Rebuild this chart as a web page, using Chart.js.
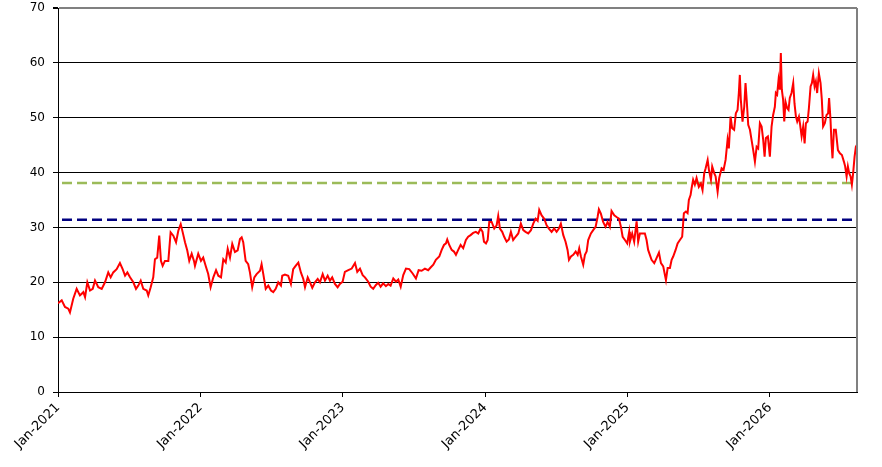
<!DOCTYPE html>
<html>
<head>
<meta charset="utf-8">
<script src="https://cdn.jsdelivr.net/npm/chart.js@4.4.1/dist/chart.umd.min.js"></script>
<style>
  html, body { margin: 0; padding: 0; background: #fff; }
  #wrap { width: 882px; height: 467px; }
</style>
</head>
<body>
<div id="wrap"><canvas id="priceChart" width="882" height="467"></canvas></div>
<script>
// time in years after Jan-2021
const times = [
  0, 0.026, 0.049, 0.072, 0.084, 0.107, 0.131, 0.154, 0.178, 0.190,
  0.206, 0.225, 0.244, 0.260, 0.283, 0.307, 0.330, 0.353, 0.370, 0.388,
  0.412, 0.435, 0.454, 0.471, 0.487, 0.506, 0.529, 0.548, 0.564, 0.581,
  0.599, 0.623, 0.634, 0.651, 0.669, 0.681, 0.697, 0.711, 0.723, 0.735,
  0.751, 0.775, 0.791, 0.810, 0.829, 0.845, 0.862, 0.876, 0.892, 0.908,
  0.922, 0.939, 0.955,
  0.962, 0.985, 1.004, 1.020, 1.037, 1.055, 1.072, 1.091, 1.110, 1.126,
  1.145, 1.161, 1.178, 1.192, 1.208, 1.224, 1.243, 1.262, 1.278, 1.290,
  1.301, 1.318, 1.336, 1.348, 1.364, 1.379, 1.395, 1.419, 1.430, 1.442,
  1.459, 1.477, 1.496, 1.512, 1.529, 1.547, 1.566, 1.575, 1.594, 1.617,
  1.636, 1.652, 1.669, 1.688, 1.706, 1.723, 1.735, 1.754, 1.770, 1.786,
  1.805, 1.824, 1.840, 1.859, 1.875, 1.894, 1.910, 1.926, 1.945, 1.964,
  1.980,
  1.999, 2.015, 2.039, 2.063, 2.086, 2.102, 2.121, 2.140, 2.156, 2.179,
  2.196, 2.214, 2.233, 2.249, 2.266, 2.284, 2.303, 2.320, 2.336, 2.355,
  2.374, 2.390, 2.407, 2.425, 2.444, 2.467, 2.491, 2.514, 2.533, 2.554,
  2.577, 2.600, 2.617, 2.636, 2.654, 2.678, 2.695, 2.711, 2.725, 2.734,
  2.748, 2.765, 2.781, 2.795, 2.811, 2.828, 2.846, 2.865, 2.881, 2.898,
  2.916, 2.935, 2.952, 2.968, 2.982, 2.992, 3.006, 3.018, 3.029,
  3.046, 3.064, 3.081, 3.092, 3.104, 3.120, 3.134, 3.151, 3.167, 3.181,
  3.197, 3.214, 3.233, 3.251, 3.268, 3.284, 3.303, 3.322, 3.338, 3.355,
  3.369, 3.380, 3.397, 3.415, 3.432, 3.448, 3.467, 3.485, 3.502, 3.518,
  3.532, 3.549, 3.565, 3.579, 3.589, 3.603, 3.619, 3.636, 3.650, 3.661,
  3.673, 3.689, 3.701, 3.713, 3.724, 3.743, 3.759, 3.776, 3.790, 3.799,
  3.813, 3.829, 3.846, 3.860, 3.876, 3.888, 3.907, 3.923, 3.940, 3.954,
  3.966, 3.982, 3.998, 4.012,
  4.017, 4.033, 4.047, 4.064, 4.075, 4.087, 4.103, 4.122, 4.134, 4.145,
  4.157, 4.169, 4.188, 4.204, 4.221, 4.235, 4.251, 4.263, 4.270, 4.282,
  4.298, 4.310, 4.321, 4.338, 4.352, 4.368, 4.384, 4.396, 4.410, 4.422,
  4.431, 4.443, 4.450, 4.461, 4.473, 4.485, 4.501, 4.515, 4.527, 4.539,
  4.549, 4.563, 4.572, 4.586, 4.595, 4.609, 4.619, 4.633, 4.644, 4.661,
  4.675, 4.689, 4.703, 4.712, 4.724, 4.735, 4.749, 4.761, 4.773, 4.782,
  4.789, 4.796, 4.808, 4.820, 4.829, 4.838, 4.848, 4.860, 4.871, 4.883,
  4.895, 4.907, 4.918,
  4.930, 4.942, 4.953, 4.963, 4.972, 4.986, 5.000, 5.012, 5.023, 5.035,
  5.042, 5.051, 5.061, 5.070, 5.077, 5.084, 5.093, 5.101, 5.110, 5.122,
  5.131, 5.140, 5.152, 5.164, 5.173, 5.183, 5.192, 5.204, 5.211, 5.223,
  5.234, 5.244, 5.253, 5.265, 5.274, 5.286, 5.295, 5.304, 5.314, 5.323,
  5.332, 5.344, 5.356, 5.365, 5.374, 5.386, 5.398, 5.409, 5.416, 5.426,
  5.433, 5.440, 5.450, 5.463, 5.478, 5.492, 5.506, 5.520, 5.529, 5.539,
  5.548, 5.557, 5.567, 5.576, 5.585, 5.595, 5.604, 5.611
];

const prices = [
  16.2, 16.7, 15.5, 15.2, 14.5, 17.0, 18.8, 17.6, 18.2, 17.3,
  20.0, 18.5, 18.8, 20.3, 19.1, 18.8, 20.0, 21.8, 20.9, 21.8,
  22.4, 23.5, 22.4, 21.2, 21.8, 20.9, 20.0, 18.8, 19.4, 20.3,
  18.8, 18.5, 17.6, 19.1, 20.9, 24.2, 24.5, 28.5, 23.9, 23.0,
  23.9, 23.9, 29.1, 28.5, 27.3, 29.4, 30.6, 29.1, 27.3, 25.8,
  23.9, 25.2, 23.9,
  23.0, 25.2, 23.9, 24.5, 23.0, 21.5, 19.1, 20.9, 22.2, 21.2,
  20.9, 24.2, 23.6, 26.1, 24.5, 27.0, 25.5, 25.8, 27.9, 28.2,
  27.3, 23.9, 23.3, 21.8, 19.1, 20.9, 21.5, 22.1, 23.3, 21.5,
  18.8, 19.4, 18.5, 18.2, 18.8, 20.0, 19.4, 21.2, 21.4, 21.2,
  19.7, 22.4, 23.0, 23.6, 21.8, 20.6, 19.1, 20.9, 20.0, 19.0,
  20.0, 20.6, 20.0, 21.5, 20.3, 21.2, 20.3, 20.9, 19.7, 19.1,
  19.7,
  20.1, 21.9, 22.2, 22.5, 23.5, 21.9, 22.5, 21.3, 20.9, 20.1,
  19.2, 18.8, 19.5, 19.9, 19.2, 19.8, 19.3, 19.7, 19.4, 20.7,
  20.1, 20.5, 19.2, 21.3, 22.5, 22.4, 21.6, 20.7, 22.2, 22.1,
  22.5, 22.2, 22.7, 23.2, 24.1, 24.7, 25.9, 26.8, 27.1, 27.8,
  26.8, 25.9, 25.6, 25.0, 25.9, 26.8, 26.2, 27.7, 28.3, 28.6,
  29.0, 29.2, 28.9, 29.8, 29.2, 27.4, 27.1, 27.7, 31.0,
  31.0, 29.8, 30.4, 32.1, 29.8, 29.2, 28.3, 27.4, 27.8, 29.2,
  27.7, 28.3, 28.9, 30.7, 29.5, 29.2, 28.9, 29.5, 30.7, 31.6,
  31.2, 33.2, 32.2, 31.6, 30.4, 29.8, 29.2, 29.8, 29.2, 29.8,
  30.7, 28.6, 27.4, 25.9, 24.1, 24.7, 25.0, 25.6, 25.0, 26.2,
  24.7, 23.2, 25.0, 25.6, 27.7, 28.9, 29.5, 30.1, 31.9, 33.3,
  32.5, 31.0, 30.1, 31.0, 30.1, 33.0, 32.2, 31.9, 31.6, 30.1,
  28.3, 27.7, 27.1, 29.2,
  27.4, 28.9, 27.4, 31.1, 27.4, 28.9, 28.9, 28.9, 27.7, 25.9,
  25.0, 24.1, 23.5, 24.4, 25.4, 23.5, 22.9, 21.3, 20.4, 22.6,
  22.6, 24.1, 24.7, 25.9, 27.1, 27.7, 28.3, 32.6, 32.9, 32.6,
  35.0, 35.9, 37.1, 38.7, 37.8, 39.0, 37.4, 38.0, 36.8, 39.9,
  40.8, 42.3, 40.5, 38.7, 41.1, 39.9, 39.3, 36.5, 39.0, 40.8,
  40.5, 42.3, 46.0, 44.4, 50.2, 48.1, 47.8, 50.8, 51.4, 54.5,
  57.8, 53.3, 49.3, 52.0, 56.3, 52.9, 48.7, 47.8, 46.0, 44.1,
  42.0, 44.7, 44.4,
  49.0, 48.4, 46.0, 42.9, 46.3, 46.6, 42.9, 48.4, 50.5, 52.0,
  54.5, 54.2, 56.9, 55.1, 61.8, 55.1, 53.3, 49.3, 52.9, 51.7,
  51.4, 53.6, 54.5, 56.3, 52.6, 50.2, 49.3, 50.2, 49.0, 46.6,
  48.4, 45.3, 49.0, 49.3, 51.7, 55.7, 56.3, 57.8, 55.7, 56.6,
  54.5, 58.1, 56.3, 53.3, 48.4, 49.0, 50.5, 50.8, 53.6, 49.6,
  45.3, 42.6, 47.8, 47.8, 44.1, 43.5, 43.2, 42.0, 41.1, 39.3,
  41.1, 39.9, 39.3, 37.8, 39.9, 42.9, 44.7, 45.0
];

// reference levels (dashed lines)
const upperLevel = 38.1;
const lowerLevel = 31.4;

const startYear = 2021;
const yearTicks = [0, 1, 2, 3, 4, 5];
const xMax = 5.612;

const borderPlugin = {
    id: 'plotBorder',
    afterDraw(chart) {
        const a = chart.chartArea;
        const ctx = chart.ctx;
        ctx.save();
        ctx.strokeStyle = '#808080';
        ctx.lineWidth = 2;
        ctx.beginPath();
        ctx.moveTo(a.right, a.top);
        ctx.lineTo(a.right, a.bottom);
        ctx.stroke();
        ctx.restore();
    }
};

const levelLine = (value, color) => ({
    data: [{ x: 0, y: value }, { x: xMax, y: value }],
    borderColor: color,
    borderWidth: 2.5,
    borderDash: [10, 5],
    borderDashOffset: 11,
    pointRadius: 0,
    fill: false,
    order: 2
});

new Chart(document.getElementById('priceChart').getContext('2d'), {
    type: 'line',
    data: {
        datasets: [
            {
                data: times.map((t, i) => ({ x: t, y: prices[i] })),
                borderColor: '#ff0000',
                borderWidth: 2,
                pointRadius: 0,
                tension: 0,
                fill: false,
                order: 1
            },
            levelLine(upperLevel, '#9bbb59'),
            levelLine(lowerLevel, '#000080')
        ]
    },
    options: {
        responsive: false,
        animation: false,
        devicePixelRatio: 1,
        layout: { padding: { top: 8, right: 25, left: 0, bottom: 0 } },
        plugins: {
            legend: { display: false },
            tooltip: { enabled: false }
        },
        scales: {
            x: {
                type: 'linear',
                min: 0,
                max: xMax,
                afterBuildTicks: scale => {
                    scale.ticks = yearTicks.map(v => ({ value: v }));
                },
                afterFit: scale => {
                    scale.height = 75;
                    scale.paddingLeft = 0;
                    scale.paddingRight = 0;
                },
                grid: {
                    drawOnChartArea: false,
                    drawTicks: true,
                    tickLength: 5,
                    tickColor: '#000'
                },
                border: { color: '#000', width: 1 },
                ticks: {
                    minRotation: 45,
                    maxRotation: 45,
                    padding: 3,
                    color: '#000',
                    font: { family: "'DejaVu Sans', sans-serif", size: 13 },
                    callback: v => 'Jan-' + (startYear + v)
                }
            },
            y: {
                min: 0,
                max: 70,
                afterFit: scale => {
                    scale.width = 58;
                    scale.paddingTop = 0;
                    scale.paddingBottom = 0;
                },
                grid: {
                    color: c => c.tick && c.tick.value === 70 ? '#808080' : '#000',
                    lineWidth: c => c.tick && c.tick.value === 70 ? 2 : 1,
                    tickLength: 5,
                    tickColor: '#000'
                },
                border: { color: '#000', width: 1 },
                ticks: {
                    stepSize: 10,
                    padding: 8,
                    color: '#000',
                    font: { family: "'DejaVu Sans', sans-serif", size: 12 }
                }
            }
        }
    },
    plugins: [borderPlugin]
});
</script>
</body>
</html>
